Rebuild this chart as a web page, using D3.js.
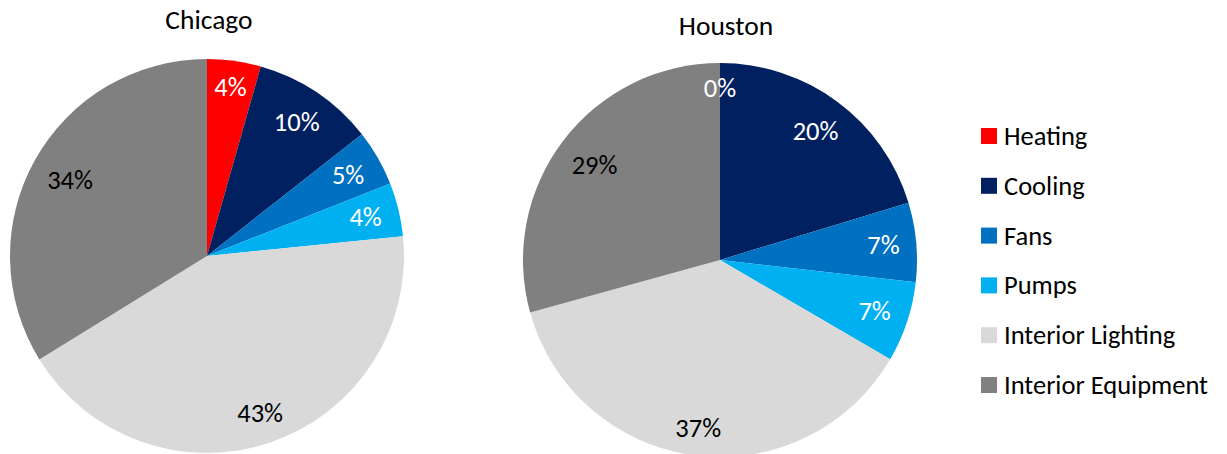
<!DOCTYPE html>
<html>
<head>
<meta charset="utf-8">
<script src="https://cdn.jsdelivr.net/npm/d3@7"></script>
<style>
  html, body { margin: 0; padding: 0; background: #fff; }
  svg { display: block; }
  text { font-family: Carlito, Calibri, Lato, "Open Sans", sans-serif; }
</style>
</head>
<body>
<svg id="chart" width="1227" height="454"></svg>
<script>
const categories = ["Heating", "Cooling", "Fans", "Pumps", "Interior Lighting", "Interior Equipment"];
const colors = ["#FF0000", "#002060", "#0070C0", "#00B0F0", "#D9D9D9", "#808080"];
const labelColors = ["#FFFFFF", "#FFFFFF", "#FFFFFF", "#FFFFFF", "#000000", "#000000"];
const chicagoValues = [4.4, 10.0, 4.6, 4.4, 42.8, 33.8];
const houstonValues = [0.0, 20.3, 6.5, 6.6, 37.3, 29.3];
const cityTitles = ["Chicago", "Houston"];

const svg = d3.select("#chart");
const R = 197;
const pies = [
  { title: cityTitles[0], values: chicagoValues, cx: 207, cy: 256, tx: 209, ty: 29 },
  { title: cityTitles[1], values: houstonValues, cx: 720, cy: 260, tx: 726, ty: 35 }
];

const pie = d3.pie().sort(null).value(d => d.v);
const arc = d3.arc().innerRadius(0).outerRadius(R);
const color = d3.scaleOrdinal().domain(categories).range(colors);
const lblColor = d3.scaleOrdinal().domain(categories).range(labelColors);

pies.forEach(p => {
  const data = categories.map((c, i) => ({ c, v: p.values[i] }));
  const g = svg.append("g").attr("transform", `translate(${p.cx},${p.cy})`);
  const arcs = pie(data);
  g.selectAll("path").data(arcs).enter().append("path")
    .attr("d", arc)
    .attr("fill", d => color(d.data.c));

  g.selectAll("text.lbl").data(arcs).enter().append("text")
    .attr("class", "lbl")
    .attr("text-anchor", "middle")
    .attr("dominant-baseline", "central")
    .attr("font-size", 26.5)
    .attr("fill", d => lblColor(d.data.c))
    .text(d => Math.round(d.data.v) + "%")
    .each(function(d) {
      const bb = this.getBBox();
      const a = (d.startAngle + d.endAngle) / 2;
      const s = Math.sin(a), c = -Math.cos(a);
      const half = Math.abs(s) * bb.width / 2 + Math.abs(c) * 17 / 2;
      const dist = 181 - half;
      d3.select(this).attr("x", s * dist).attr("y", c * dist);
    });

  svg.append("text")
    .attr("x", p.tx).attr("y", p.ty)
    .attr("text-anchor", "middle")
    .attr("font-size", 27.5)
    .attr("fill", "#000")
    .text(p.title);
});

const legend = svg.append("g");
const ly = d3.scalePoint().domain(categories).range([136, 385]);
const items = legend.selectAll("g").data(categories).enter().append("g")
  .attr("transform", d => `translate(981,${ly(d)})`);
items.append("rect").attr("x", 0).attr("y", -8).attr("width", 16).attr("height", 16)
  .attr("fill", d => color(d));
items.append("text").attr("x", 23).attr("y", 0)
  .attr("dominant-baseline", "central")
  .attr("font-size", 26.5)
  .attr("fill", "#000")
  .text(d => d);
</script>
</body>
</html>
